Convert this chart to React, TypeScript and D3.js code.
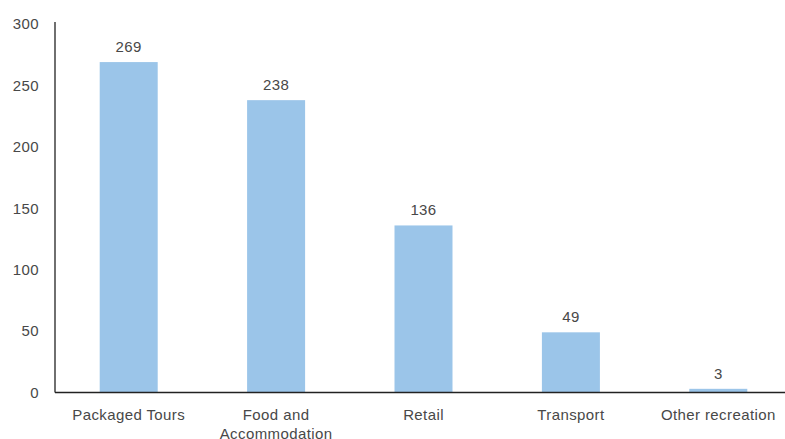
import React from "react";
import * as d3 from "d3";

const categories: string[][] = [
  ["Packaged Tours"],
  ["Food and", "Accommodation"],
  ["Retail"],
  ["Transport"],
  ["Other recreation"],
];
const values: number[] = [269, 238, 136, 49, 3];
const yTicks: number[] = [0, 50, 100, 150, 200, 250, 300];

const W = 785;
const H = 439;
const x0 = 55;
const x1 = 792;
const yBase = 392.5;
const yTop = 24;

export default function App() {
  const keys = categories.map((c) => c.join(" "));
  const x = d3.scaleBand<string>().domain(keys).range([x0, x1]).padding(0);
  const y = d3.scaleLinear().domain([0, 300]).range([yBase, yTop]);
  const barW = 58;
  const font = "'Liberation Sans', Arial, sans-serif";
  const textColor = "#484848";
  const fs = 15;
  const ls = 0.4;
  return (
    <svg
      width={W}
      height={H}
      style={{ position: "absolute", left: 0, top: 0 }}
      fontFamily={font}
    >
      {yTicks.map((t) => (
        <text
          key={t}
          x={39}
          y={y(t)}
          dy="0.35em"
          textAnchor="end"
          fontSize={fs}
          letterSpacing={ls}
          fill={textColor}
        >
          {t}
        </text>
      ))}
      {values.map((v, i) => {
        const cx = (x(keys[i]) as number) + x.bandwidth() / 2;
        return (
          <g key={i}>
            <rect
              x={cx - barW / 2}
              y={y(v)}
              width={barW}
              height={yBase - y(v)}
              fill="#9BC5E9"
            />
            <text
              x={cx}
              y={y(v) - 10}
              textAnchor="middle"
              fontSize={fs}
              letterSpacing={ls}
              fill={textColor}
            >
              {v}
            </text>
            {categories[i].map((line, j) => (
              <text
                key={j}
                x={cx}
                y={420 + j * 19}
                textAnchor="middle"
                fontSize={fs}
                letterSpacing={ls}
                fill={textColor}
              >
                {line}
              </text>
            ))}
          </g>
        );
      })}
      <line x1={x0} x2={x0} y1={22} y2={yBase} stroke="#222" strokeWidth={1.3} />
      <line x1={x0} x2={W} y1={yBase} y2={yBase} stroke="#222" strokeWidth={1.3} />
    </svg>
  );
}
